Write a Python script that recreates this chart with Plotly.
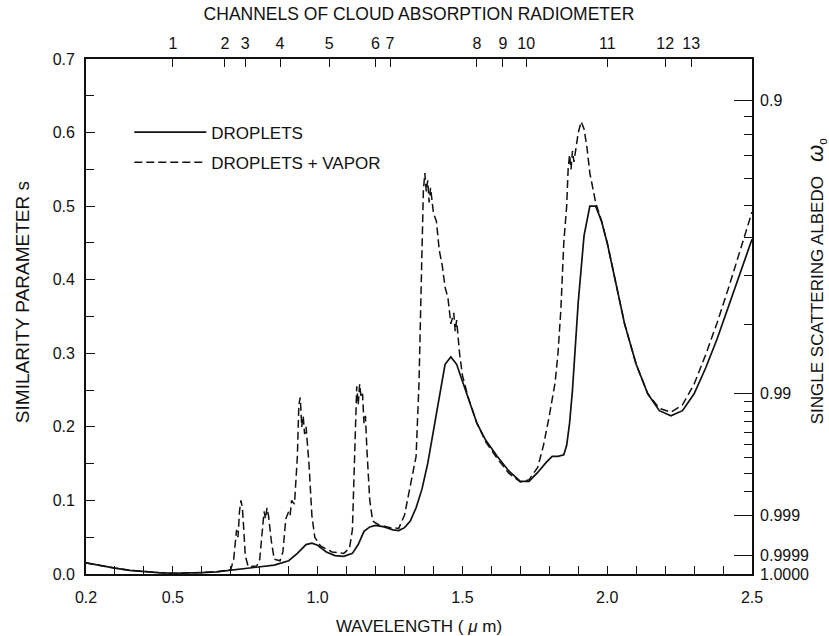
import numpy as np
import plotly.graph_objects as go

# ---------------- data ----------------
wl_droplets = [0.20, 0.25, 0.30, 0.35, 0.40, 0.45, 0.50, 0.55, 0.60, 0.65, 0.70, 0.75, 0.80, 0.85,
               0.90, 0.93, 0.96, 0.98, 1.00, 1.03, 1.06, 1.09, 1.12, 1.14, 1.16, 1.18, 1.20, 1.23,
               1.26, 1.28, 1.30, 1.32, 1.34, 1.36, 1.38, 1.40, 1.42, 1.44, 1.46, 1.48, 1.50, 1.52,
               1.55, 1.58, 1.62, 1.66, 1.70, 1.73, 1.76, 1.79, 1.81, 1.83, 1.85, 1.86, 1.87, 1.88,
               1.89, 1.90, 1.92, 1.94, 1.96, 1.98, 2.00, 2.03, 2.06, 2.10, 2.14, 2.18, 2.22, 2.26,
               2.30, 2.34, 2.38, 2.42, 2.46, 2.50]
s_droplets = [0.015, 0.011, 0.008, 0.005, 0.003, 0.002, 0.001, 0.001, 0.002, 0.003, 0.005, 0.008,
              0.010, 0.012, 0.018, 0.028, 0.040, 0.042, 0.039, 0.030, 0.025, 0.024, 0.028, 0.040,
              0.058, 0.064, 0.066, 0.064, 0.060, 0.059, 0.063, 0.072, 0.090, 0.115, 0.150, 0.195,
              0.245, 0.285, 0.295, 0.285, 0.262, 0.238, 0.205, 0.182, 0.160, 0.140, 0.126, 0.126,
              0.138, 0.152, 0.160, 0.160, 0.162, 0.175, 0.205, 0.250, 0.310, 0.370, 0.460, 0.500,
              0.500, 0.480, 0.450, 0.395, 0.340, 0.285, 0.245, 0.222, 0.215, 0.222, 0.245, 0.280,
              0.320, 0.365, 0.410, 0.455]

wl_vapor = [0.20, 0.25, 0.30, 0.35, 0.40, 0.45, 0.50, 0.55, 0.60, 0.65, 0.70, 0.71, 0.72, 0.725,
            0.73, 0.735, 0.74, 0.745, 0.75, 0.76, 0.79, 0.80, 0.81, 0.815, 0.82, 0.825, 0.83, 0.84,
            0.85, 0.87, 0.88, 0.89, 0.90, 0.905, 0.91, 0.92, 0.93, 0.935, 0.94, 0.945, 0.95, 0.955,
            0.96, 0.97, 0.98, 0.99, 1.01, 1.05, 1.09, 1.11, 1.12, 1.13, 1.135, 1.14, 1.145, 1.15,
            1.155, 1.16, 1.165, 1.17, 1.18, 1.19, 1.21, 1.25, 1.28, 1.30, 1.31, 1.32, 1.33, 1.34,
            1.35, 1.355, 1.36, 1.365, 1.37, 1.375, 1.38, 1.385, 1.39, 1.40, 1.41, 1.42, 1.43, 1.44,
            1.45, 1.46, 1.47, 1.475, 1.48, 1.49, 1.50, 1.52, 1.55, 1.58, 1.62, 1.66, 1.70, 1.73,
            1.76, 1.78, 1.80, 1.82, 1.83, 1.84, 1.85, 1.855, 1.86, 1.865, 1.87, 1.875, 1.88, 1.885,
            1.89, 1.90, 1.91, 1.92, 1.93, 1.94, 1.96, 1.98, 2.00, 2.03, 2.06, 2.10, 2.14, 2.18,
            2.22, 2.26, 2.30, 2.34, 2.38, 2.42, 2.46, 2.50]
s_vapor = [0.015, 0.011, 0.008, 0.005, 0.003, 0.002, 0.001, 0.001, 0.002, 0.003, 0.006, 0.020,
           0.060, 0.050, 0.085, 0.100, 0.090, 0.060, 0.025, 0.010, 0.011, 0.020, 0.060, 0.085,
           0.075, 0.090, 0.080, 0.045, 0.020, 0.018, 0.030, 0.075, 0.085, 0.080, 0.100, 0.095,
           0.160, 0.230, 0.240, 0.200, 0.215, 0.190, 0.200, 0.150, 0.080, 0.050, 0.038, 0.030,
           0.028, 0.035, 0.060, 0.180, 0.255, 0.230, 0.258, 0.240, 0.245, 0.205, 0.215, 0.170,
           0.100, 0.072, 0.067, 0.063, 0.062, 0.080, 0.100, 0.120, 0.135, 0.160, 0.260, 0.350,
           0.450, 0.520, 0.545, 0.520, 0.535, 0.505, 0.525, 0.490, 0.480, 0.440, 0.420, 0.390,
           0.375, 0.340, 0.355, 0.330, 0.345, 0.300, 0.270, 0.240, 0.205, 0.180, 0.157, 0.137,
           0.125, 0.128, 0.145, 0.175, 0.215, 0.260, 0.300, 0.360, 0.450, 0.470, 0.500, 0.550,
           0.570, 0.550, 0.575, 0.560, 0.575, 0.600, 0.615, 0.605, 0.580, 0.545, 0.505, 0.480,
           0.450, 0.395, 0.340, 0.285, 0.245, 0.225, 0.220, 0.230, 0.258, 0.298, 0.342, 0.390,
           0.440, 0.492]

bottom_tick_values = [0.2, 0.5, 1.0, 1.5, 2.0, 2.5]
bottom_tick_labels = ["0.2", "0.5", "1.0", "1.5", "2.0", "2.5"]

channel_wl = [0.50, 0.68, 0.75, 0.87, 1.04, 1.20, 1.25, 1.55, 1.64, 1.72, 2.00, 2.20, 2.29]
channel_labels = ["1", "2", "3", "4", "5", "6", "7", "8", "9", "10", "11", "12", "13"]

albedo_major = [0.9, 0.99, 0.999, 0.9999, 1.0]
albedo_major_labels = ["0.9", "0.99", "0.999", "0.9999", "1.0000"]
albedo_minor = [0.91, 0.92, 0.93, 0.94, 0.95, 0.96, 0.97, 0.98,
                0.991, 0.992, 0.993, 0.994, 0.995, 0.996, 0.997, 0.998]
asym_g = 0.843  # asymmetry factor linking albedo to similarity parameter


def sim_param(w):
    w = np.asarray(w, dtype=float)
    return np.sqrt((1 - w) / (1 - asym_g * w))


FONT = "Liberation Sans, Arial, Helvetica, sans-serif"
INK = "#111111"
TICK_SIZE = 16
TITLE_SIZE = 17

fig = go.Figure()
fig.add_trace(go.Scatter(x=wl_droplets, y=s_droplets, mode="lines", name="DROPLETS",
                         legendgroup="a", line=dict(color=INK, width=1.7)))
fig.add_trace(go.Scatter(x=wl_vapor, y=s_vapor, mode="lines", name="DROPLETS + VAPOR",
                         legendgroup="b", line=dict(color=INK, width=1.5, dash="8px,4px")))
# carrier trace for the secondary (top / right) axes
fig.add_trace(go.Scatter(x=[0.2, 2.5], y=[0, 0.7], xaxis="x2", yaxis="y2", mode="lines",
                         opacity=0, showlegend=False, hoverinfo="skip",
                         line=dict(color="rgba(0,0,0,0)")))

axis_common = dict(showgrid=False, zeroline=False, showline=True, linecolor=INK, linewidth=1.7,
                   ticks="inside", tickcolor=INK, tickwidth=1.4, automargin=False,
                   tickfont=dict(family=FONT, size=TICK_SIZE, color=INK))
minor_common = dict(ticks="inside", ticklen=8, tickcolor=INK, tickwidth=1.4)

fig.update_layout(
    width=829, height=636,
    margin=dict(l=86, r=77, t=59, b=62),
    paper_bgcolor="white", plot_bgcolor="white",
    font=dict(family=FONT, size=TICK_SIZE, color=INK),
    showlegend=True,
    legend=dict(x=0.065, y=0.892, xanchor="left", yanchor="top", bgcolor="rgba(0,0,0,0)",
                itemwidth=72, font=dict(family=FONT, size=TITLE_SIZE, color=INK),
                tracegroupgap=5),
    xaxis=dict(range=[0.2, 2.5], tickmode="array", tickvals=bottom_tick_values,
               ticktext=bottom_tick_labels, ticklen=8, ticklabelstandoff=8,
               minor=dict(dtick=0.1, tick0=0.2, **minor_common),
               title=dict(text="WAVELENGTH ( <i>μ</i> m)",
                          font=dict(family=FONT, size=TITLE_SIZE, color=INK), standoff=18),
               **axis_common),
    yaxis=dict(range=[0, 0.7], dtick=0.1, tick0=0, tickformat=".1f", ticklen=9,
               ticklabelstandoff=6,
               minor=dict(dtick=0.05, tick0=0, **minor_common),
               **axis_common),
    xaxis2=dict(range=[0.2, 2.5], overlaying="x", side="top", anchor="y",
                tickmode="array", tickvals=channel_wl, ticktext=channel_labels, ticklen=8,
                ticklabelstandoff=2,
                title=dict(text="CHANNELS OF CLOUD ABSORPTION RADIOMETER",
                           font=dict(family=FONT, size=17.5, color=INK), standoff=10),
                **axis_common),
    yaxis2=dict(range=[0, 0.7], overlaying="y", side="right", anchor="x",
                tickmode="array", tickvals=list(sim_param(albedo_major)),
                ticktext=albedo_major_labels, ticklen=18, ticklabelstandoff=3,
                minor=dict(tickmode="array", tickvals=list(sim_param(albedo_minor)),
                           **minor_common),
                **axis_common),
    annotations=[
        dict(text="SIMILARITY PARAMETER s", textangle=-90, showarrow=False,
             xref="paper", yref="paper", x=-0.096, y=0.528, xanchor="center", yanchor="middle",
             font=dict(family=FONT, size=19, color=INK)),
        dict(text="SINGLE SCATTERING ALBEDO   "
                  "<span style='font-size:22px'><i>ω</i></span><sub>o</sub>",
             textangle=-90, showarrow=False,
             xref="paper", yref="paper", x=1.098, y=0.569, xanchor="center", yanchor="middle",
             font=dict(family=FONT, size=TITLE_SIZE, color=INK)),
    ],
)

fig.write_html("out.html")
